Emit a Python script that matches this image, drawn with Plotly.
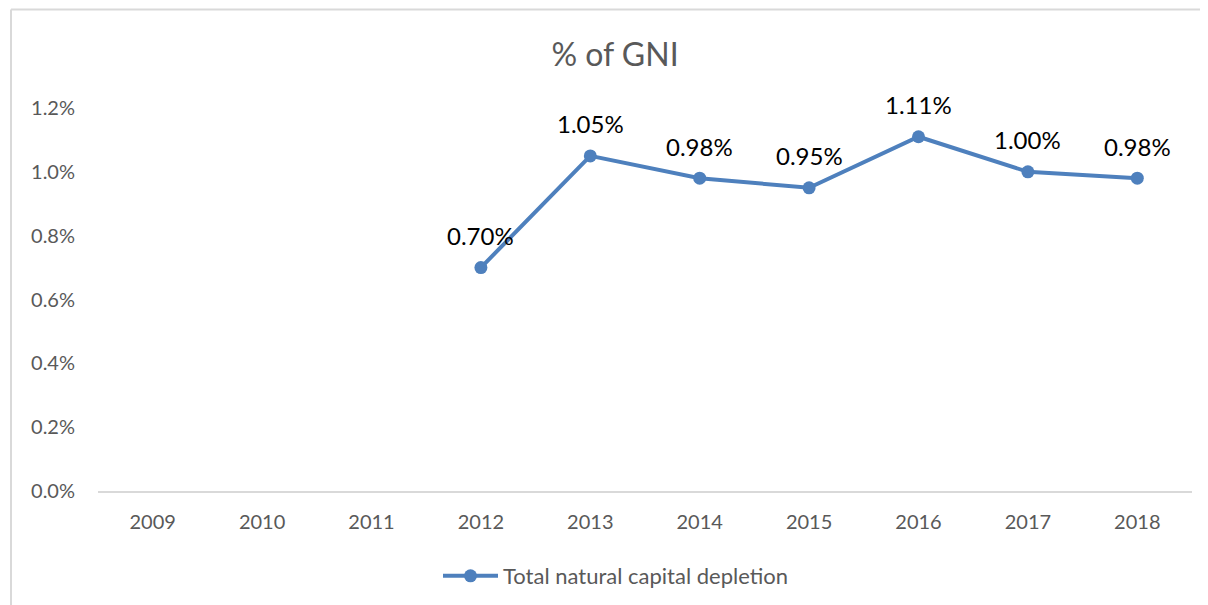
import plotly.graph_objects as go

years = ["2009", "2010", "2011", "2012", "2013", "2014", "2015", "2016", "2017", "2018"]
depletion = [None, None, None, 0.0070, 0.0105, 0.0098, 0.0095, 0.0111, 0.0100, 0.0098]
series_name = "Total natural capital depletion"
title_text = "% of GNI"

OFF = 8  # default page body margin
W, H = 1208 - OFF, 605 - OFF
PL, PR, PT, PB = 98, 1192, 108, 491  # plot area in page pixels
L, R, T, B = PL - OFF, (1208 - PR), PT - OFF, (605 - PB)
pw, ph = W - L - R, H - T - B

def px(x):  # page pixel -> paper x
    return (x - OFF - L) / pw

def py(y):  # page pixel -> paper y
    return (PB - y) / ph

FONT = "Lato, Calibri, Carlito, sans-serif"
BLUE = "#4E80BD"
GRAY = "#595959"

fig = go.Figure()
fig.add_trace(go.Scatter(
    x=years, y=depletion, mode="lines+markers", name=series_name,
    line=dict(color=BLUE, width=4),
    marker=dict(color=BLUE, size=13),
    connectgaps=False,
))

annotations = []
for i, v in enumerate(depletion):
    if v is None:
        continue
    annotations.append(dict(
        x=i, y=v, xref="x", yref="y", text=f"{v*100:.2f}%",
        showarrow=False, yshift=32,
        font=dict(family=FONT, size=24, color="#000000"),
    ))

fig.update_layout(
    width=W, height=H,
    margin=dict(l=L, r=R, t=T, b=B, autoexpand=False),
    paper_bgcolor="white", plot_bgcolor="white",
    title=dict(text=title_text, x=px(615), xanchor="center", xref="paper",
               y=1 - (55 - OFF) / H, yanchor="middle", yref="container",
               font=dict(family=FONT, size=32, color=GRAY)),
    xaxis=dict(type="category", showgrid=False, zeroline=False,
               showline=True, linecolor="#D9D9D9", linewidth=1.5,
               ticks="", tickfont=dict(family=FONT, size=20, color=GRAY),
               ticklabelstandoff=12,
               range=[-0.5, 9.5], fixedrange=True),
    yaxis=dict(range=[0, 0.012], dtick=0.002, tickformat=".1%",
               showgrid=False, zeroline=False, showline=False, ticks="",
               tickfont=dict(family=FONT, size=20, color=GRAY),
               ticklabelstandoff=22, fixedrange=True),
    showlegend=True,
    legend=dict(orientation="h", x=px(616), xanchor="center", xref="paper",
                y=py(576), yanchor="middle",
                font=dict(family=FONT, size=22, color=GRAY),
                itemwidth=55),
    annotations=annotations,
    shapes=[
        dict(type="line", xref="paper", yref="paper", x0=px(11), x1=px(1212),
             y0=py(9.5), y1=py(9.5), line=dict(color="#D9D9D9", width=2)),
        dict(type="line", xref="paper", yref="paper", x0=px(11), x1=px(11),
             y0=py(9.5), y1=py(610), line=dict(color="#D9D9D9", width=2)),
    ],
)

fig.write_html("out.html")
